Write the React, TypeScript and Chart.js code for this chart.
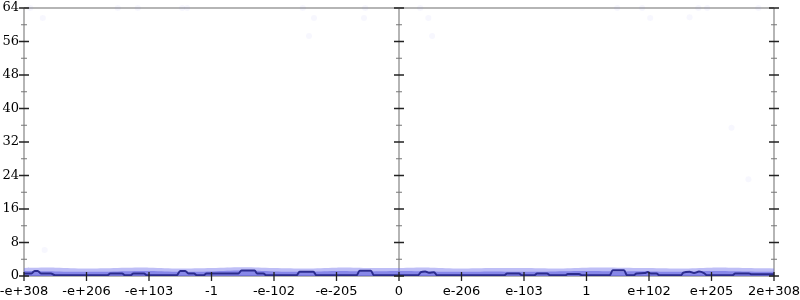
import React, { useEffect, useRef } from "react";
import { Chart, registerables } from "chart.js";

Chart.register(...registerables);

// ---- data ----
const xTickLabels = ["-e+308", "-e+206", "-e+103", "-1", "-e-102", "-e-205", "0", "e-206", "e-103", "1", "e+102", "e+205", "2e+308"];
const xTickValues = [-6, -5, -4, -3, -2, -1, 0, 1, 2, 3, 4, 5, 6];
const yTicks = [0, 8, 16, 24, 32, 40, 48, 56, 64];
const yMinorTicks = [4, 12, 20, 28, 36, 44, 52, 60];

const lineX = [
  -6.0, -5.88, -5.83, -5.78, -5.73, -5.57, -5.5, -4.67, -4.62, -4.43, -4.38, -4.3, -4.25, -4.08, -4.03,
  -3.56, -3.5, -3.42, -3.37, -3.28, -3.23, -3.13, -3.08, -2.57, -2.52, -2.31, -2.27, -2.17, -2.12,
  -1.64, -1.59, -1.37, -1.32, -0.68, -0.63, -0.45, -0.4, 0.3, 0.35, 0.42, 0.48, 0.56, 0.61,
  1.68, 1.73, 1.92, 1.97, 2.16, 2.21, 2.37, 2.42, 2.66, 2.7, 2.88, 2.93, 3.37, 3.42, 3.6, 3.65,
  3.75, 3.8, 3.93, 3.98, 4.03, 4.12, 4.17, 4.51, 4.55, 4.65, 4.72, 4.8, 4.88, 4.93, 5.33, 5.38,
  5.6, 5.64, 6.0,
];
const lineY = [
  0.6, 0.6, 1.2, 1.2, 0.6, 0.6, 0.15, 0.15, 0.6, 0.6, 0.15, 0.15, 0.6, 0.6, 0.15,
  0.15, 1.2, 1.2, 0.6, 0.6, 0.15, 0.15, 0.6, 0.6, 1.3, 1.3, 0.6, 0.6, 0.15,
  0.15, 1.0, 1.0, 0.15, 0.15, 1.25, 1.25, 0.15, 0.15, 0.9, 1.1, 0.8, 0.9, 0.15,
  0.15, 0.6, 0.6, 0.15, 0.15, 0.6, 0.6, 0.15, 0.15, 0.5, 0.5, 0.15, 0.15, 1.35, 1.35, 0.15,
  0.15, 0.6, 0.7, 0.95, 0.6, 0.6, 0.15, 0.15, 0.8, 1.0, 0.7, 1.05, 0.7, 0.15, 0.15, 0.6,
  0.6, 0.4, 0.4,
];

const bandX = [-6, -5.5, -5, -4.5, -4, -3.5, -3, -2.5, -2, -1.5, -1, -0.5, 0, 0.5, 1, 1.5, 2, 2.5, 3, 3.5, 4, 4.5, 5, 5.5, 6];
const bandTop = [1.9, 2.0, 1.8, 1.9, 2.0, 1.8, 1.9, 2.1, 1.9, 1.8, 2.0, 1.9, 1.9, 2.0, 1.8, 1.9, 1.9, 1.8, 2.0, 2.0, 1.9, 1.8, 2.0, 1.9, 1.8];
const bandCore = [1.2, 1.1, 1.0, 1.1, 1.2, 1.0, 1.1, 1.3, 1.1, 1.0, 1.2, 1.1, 1.2, 1.1, 1.0, 1.1, 1.0, 1.1, 1.2, 1.1, 1.1, 1.0, 1.2, 1.1, 1.0];

const outlierX = [-5.9, -4.5, -4.18, -3.47, -3.39, -1.54, -0.54, 0.34, 3.49, 3.89, 4.79, 4.93, 5.75, -5.7, -1.36, -0.56, 0.47, 4.02, 4.65, -1.44, 0.53, -5.67, 5.32, 5.59];
const outlierY = [64, 64, 64, 64, 64, 64, 64, 64, 64, 64, 64, 64, 64, 61.6, 61.6, 61.6, 61.6, 61.6, 61.8, 57.3, 57.3, 6.2, 35.4, 23.1];

const zip = (xs: number[], ys: number[]) => xs.map((x, i) => ({ x, y: ys[i] }));

const axesPlugin = {
  id: "axesDeco",
  beforeDatasetsDraw(chart: any) {
    const { ctx, scales } = chart;
    const x = scales.x;
    const y = scales.y;
    ctx.save();
    ctx.strokeStyle = "#b5b5b5";
    ctx.lineWidth = 2;
    const top = y.getPixelForValue(64);
    const bottom = y.getPixelForValue(0);
    const left = x.getPixelForValue(-6);
    const right = x.getPixelForValue(6);
    ctx.beginPath();
    ctx.moveTo(left, top);
    ctx.lineTo(right, top);
    ctx.moveTo(left, bottom);
    ctx.lineTo(right, bottom);
    for (const v of [-6, 0, 6]) {
      const px = x.getPixelForValue(v);
      ctx.moveTo(px, top);
      ctx.lineTo(px, bottom);
    }
    ctx.stroke();
    ctx.restore();
  },
  afterDatasetsDraw(chart: any) {
    const { ctx, scales } = chart;
    const x = scales.x;
    const y = scales.y;
    ctx.save();
    const bottom = y.getPixelForValue(0);
    for (const v of [-6, 0, 6]) {
      const px = x.getPixelForValue(v);
      ctx.strokeStyle = "#222";
      ctx.lineWidth = 1.3;
      ctx.beginPath();
      for (const t of yTicks) {
        const py = y.getPixelForValue(t);
        ctx.moveTo(px - 5, py);
        ctx.lineTo(px + 5, py);
      }
      ctx.stroke();
      ctx.strokeStyle = "#777";
      ctx.lineWidth = 1;
      ctx.beginPath();
      for (const t of yMinorTicks) {
        const py = y.getPixelForValue(t);
        ctx.moveTo(px - 3, py);
        ctx.lineTo(px + 3, py);
      }
      ctx.stroke();
    }
    ctx.strokeStyle = "#222";
    ctx.lineWidth = 1.3;
    ctx.beginPath();
    for (const v of xTickValues) {
      const px = x.getPixelForValue(v);
      ctx.moveTo(px, bottom - 4);
      ctx.lineTo(px, bottom + 5);
    }
    ctx.stroke();
    ctx.restore();
  },
};

export default function App() {
  const ref = useRef<HTMLCanvasElement | null>(null);
  useEffect(() => {
    if (!ref.current) return;
    const chart = new Chart(ref.current, {
      type: "line",
      data: {
        datasets: [
          {
            data: zip(lineX, lineY),
            borderColor: "#2c2c8e",
            borderWidth: 2,
            pointRadius: 0,
            cubicInterpolationMode: "monotone",
            fill: false,
          } as any,
          {
            data: zip(bandX, bandCore),
            borderWidth: 0,
            pointRadius: 0,
            tension: 0.4,
            fill: "origin",
            backgroundColor: "rgba(80,80,220,0.5)",
          },
          {
            data: zip(bandX, bandTop),
            borderWidth: 0,
            pointRadius: 0,
            tension: 0.4,
            fill: "origin",
            backgroundColor: "rgba(110,110,235,0.45)",
          },
          {
            type: "scatter",
            data: zip(outlierX, outlierY),
            pointRadius: 3,
            borderWidth: 0,
            backgroundColor: "rgba(120,120,235,0.06)",
            clip: false,
          } as any,
        ],
      },
      options: {
        animation: false,
        responsive: false,
        layout: { padding: { top: 8, right: 26, left: 0, bottom: 0 } },
        plugins: { legend: { display: false }, tooltip: { enabled: false } },
        scales: {
          x: {
            type: "linear",
            min: -6,
            max: 6,
            afterBuildTicks: (s: any) => {
              s.ticks = xTickValues.map((v) => ({ value: v }));
            },
            afterFit: (s: any) => {
              s.height = 24;
              s.paddingLeft = 0;
              s.paddingRight = 0;
              s.paddingTop = 0;
              s.paddingBottom = 0;
            },
            ticks: {
              autoSkip: false,
              maxRotation: 0,
              padding: 8,
              color: "#000",
              font: { family: "DejaVu Sans", size: 13 },
              callback: (_v: any, i: number) => xTickLabels[i],
            },
            grid: { display: false, drawTicks: false },
            border: { display: false },
          },
          y: {
            min: 0,
            max: 64,
            afterBuildTicks: (s: any) => {
              s.ticks = yTicks.map((v) => ({ value: v }));
            },
            afterFit: (s: any) => {
              s.width = 24;
              s.paddingLeft = 0;
              s.paddingRight = 0;
              s.paddingTop = 0;
              s.paddingBottom = 0;
            },
            ticks: {
              padding: 5,
              color: "#000",
              font: { family: "DejaVu Serif", size: 13 },
            },
            grid: { display: false, drawTicks: false },
            border: { display: false },
          },
        },
      },
      plugins: [axesPlugin],
    });
    return () => chart.destroy();
  }, []);
  return (
    <div style={{ position: "fixed", left: 0, top: 0, width: 800, height: 300, background: "#fff" }}>
      <canvas ref={ref} width={800} height={300} style={{ display: "block" }} />
    </div>
  );
}
